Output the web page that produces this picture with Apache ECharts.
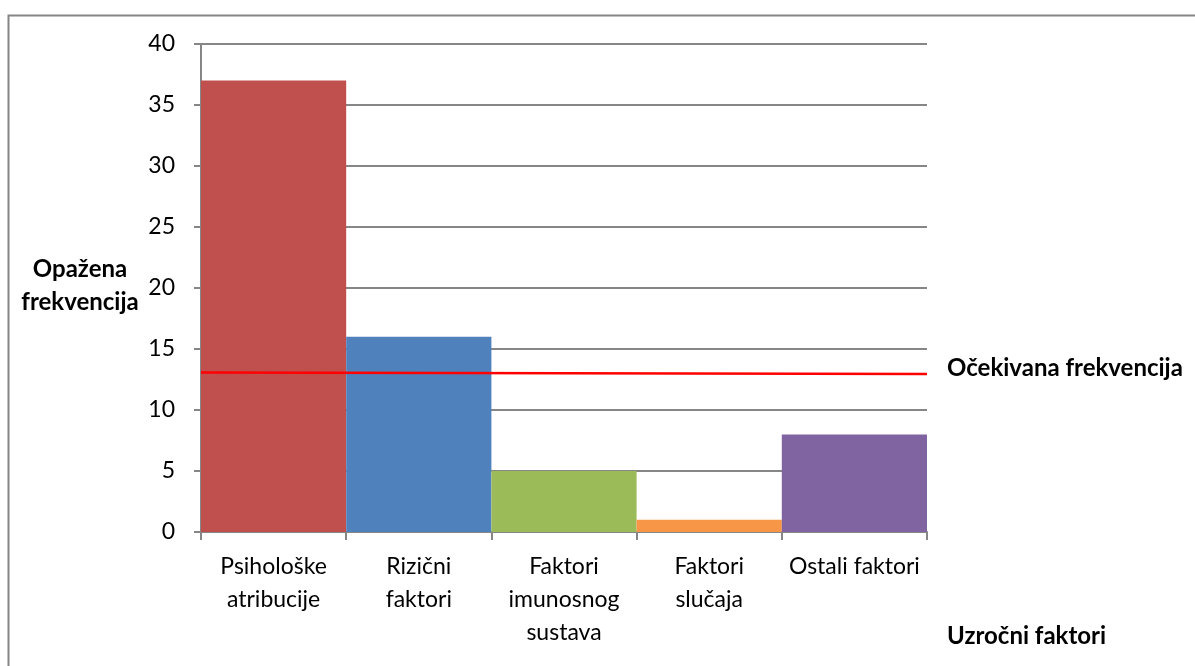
<!DOCTYPE html>
<html>
<head>
<meta charset="utf-8">
<script src="https://cdn.jsdelivr.net/npm/echarts@6/dist/echarts.min.js"></script>
<style>html,body{margin:0;padding:0;background:#fff;}#c{width:1195px;height:666px;}</style>
</head>
<body>
<div id="c"></div>
<script>
const categories = ['Psihološke\natribucije', 'Rizični\nfaktori', 'Faktori\nimunosnog\nsustava', 'Faktori\nslučaja', 'Ostali faktori'];
const observed = [37, 16, 5, 1, 8];
const barColors = ['#C0504D', '#4F81BD', '#9BBB59', '#F79646', '#8064A2'];
const expectedLine = [[0, 13.08], [1, 12.95]];
const yTicks = { min: 0, max: 40, interval: 5 };

const FONT = 'Lato';
const chart = echarts.init(document.getElementById('c'), null, { renderer: 'canvas' });
chart.setOption({
  animation: false,
  backgroundColor: '#fff',
  grid: { left: 201, right: 268, top: 44, bottom: 134 },
  xAxis: [{
    type: 'category',
    data: categories,
    axisLine: { lineStyle: { color: '#868686', width: 2 } },
    axisTick: { show: true, alignWithLabel: false, length: 8, lineStyle: { color: '#868686', width: 2 } },
    axisLabel: { color: '#000', fontFamily: FONT, fontSize: 23, lineHeight: 33, margin: 18, interval: 0 },
    splitLine: { show: false }
  }, {
    type: 'value', min: 0, max: 1, show: false
  }],
  yAxis: {
    type: 'value',
    min: yTicks.min, max: yTicks.max, interval: yTicks.interval,
    axisLine: { show: true, lineStyle: { color: '#868686', width: 2 } },
    axisTick: { show: true, length: 7, lineStyle: { color: '#868686', width: 2 } },
    axisLabel: { color: '#000', fontFamily: FONT, fontSize: 23, margin: 26 },
    splitLine: { show: true, lineStyle: { color: '#868686', width: 2 } }
  },
  series: [{
    type: 'bar',
    data: observed.map((v, i) => ({ value: v, itemStyle: { color: barColors[i] } })),
    barWidth: '100%',
    barCategoryGap: 0
  }, {
    type: 'line',
    xAxisIndex: 1,
    data: expectedLine,
    symbol: 'none',
    lineStyle: { color: '#FF0000', width: 2.5 },
    z: 5
  }],
  graphic: [
    { type: 'rect', shape: { x: 8.5, y: 15.5, width: 1400, height: 1000 }, style: { fill: null, stroke: '#868686', lineWidth: 2 }, silent: true, z: -1 },
    { type: 'text', x: 80, y: 286, style: { text: 'Opažena\nfrekvencija', fill: '#000', font: 'bold 24px ' + FONT, align: 'center', verticalAlign: 'middle', lineHeight: 33 } },
    { type: 'text', x: 947, y: 368, style: { text: 'Očekivana frekvencija', fill: '#000', font: 'bold 24px ' + FONT, align: 'left', verticalAlign: 'middle' } },
    { type: 'text', x: 947, y: 636, style: { text: 'Uzročni faktori', fill: '#000', font: 'bold 24px ' + FONT, align: 'left', verticalAlign: 'middle' } }
  ]
});
</script>
</body>
</html>
